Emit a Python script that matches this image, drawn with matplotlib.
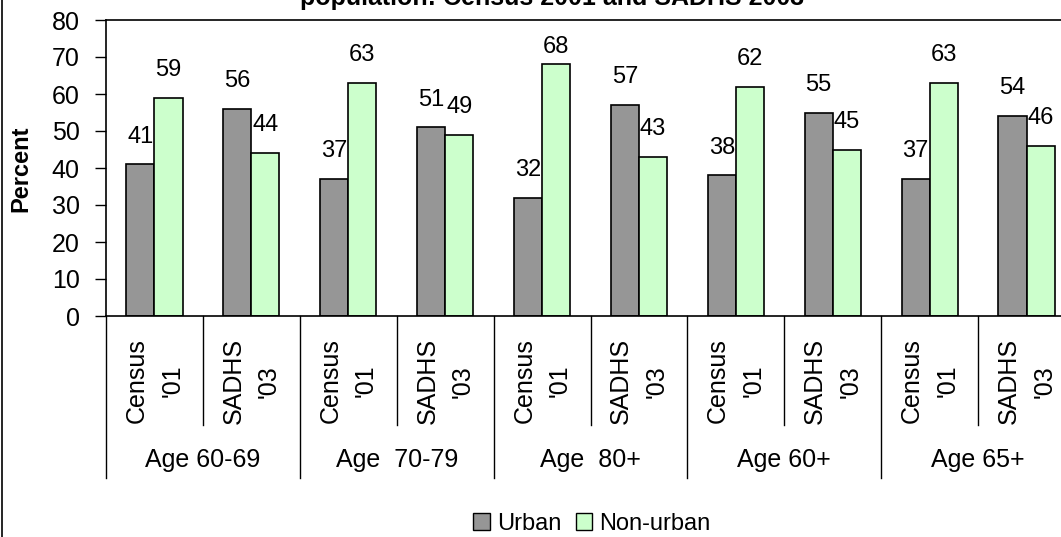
import matplotlib
matplotlib.use("Agg")
import matplotlib.pyplot as plt
from matplotlib.lines import Line2D
from matplotlib.patches import Patch
import numpy as np


age_groups = ["Age 60-69", "Age  70-79", "Age  80+", "Age 60+", "Age 65+"]
sources = ["Census\n'01", "SADHS\n'03"]
urban = [41, 56, 37, 51, 32, 57, 38, 55, 37, 54]
non_urban = [59, 44, 63, 49, 68, 43, 62, 45, 63, 46]
# label heights above the bar top (data units), one value was nudged down in the source
urban_label_offset = [7.5] * 10
non_urban_label_offset = [7.5, 7.5, 7.5, 7.5, 4.7, 7.5, 7.5, 7.5, 7.5, 7.5]

plt.rcParams['font.family'] = ['Liberation Sans', 'DejaVu Sans']

W, H = 1061, 537
fig = plt.figure(figsize=(W / 100, H / 100), dpi=100)

# plot area in pixels: left 106, right 1075 (past the crop), top 20, bottom 316
ax = fig.add_axes([106 / W, (H - 316) / H, (1075 - 106) / W, (316 - 20) / H])

x = np.arange(len(urban))
bw = 0.29
ax.bar(x - bw / 2, urban, bw, color='#969696', edgecolor='black', linewidth=1.2, label='Urban')
ax.bar(x + bw / 2, non_urban, bw, color='#CCFFCC', edgecolor='black', linewidth=1.2, label='Non-urban')

for i in range(len(urban)):
    ax.text(x[i] - bw / 2, urban[i] + urban_label_offset[i], str(urban[i]),
            ha='center', va='center', fontsize=17)
    ax.text(x[i] + bw / 2, non_urban[i] + non_urban_label_offset[i], str(non_urban[i]),
            ha='center', va='center', fontsize=17)

ax.set_xlim(-0.5, len(urban) - 0.5)
ax.set_ylim(0, 80)
ax.set_yticks(range(0, 81, 10))
ax.tick_params(axis='y', direction='out', length=8, width=1, labelsize=18, pad=11)
ax.set_xticks([])
for s in ['left', 'bottom', 'top']:
    ax.spines[s].set_linewidth(1.2)
ax.spines['right'].set_visible(False)

ax.set_ylabel('Percent', fontsize=17, fontweight='bold')
ax.yaxis.set_label_coords(-0.076, 0.497)

# two-level category axis below the plot
trans = ax.get_xaxis_transform()
for i in range(len(urban)):
    ax.text(x[i], -0.075, sources[i % 2], rotation=90, ha='center', va='top',
            multialignment='center', fontsize=18, linespacing=1.6, transform=trans)
for k in range(len(urban) + 1):
    bottom = -0.547 if k % 2 == 0 else -0.368
    ax.add_line(Line2D([k - 0.5, k - 0.5], [0, bottom], transform=trans,
                       color='black', linewidth=1, clip_on=False))
for j, g in enumerate(age_groups):
    ax.text(2 * j + 0.5, -0.487, g, ha='center', va='center', fontsize=18, transform=trans)

# title is cut off at the top edge of the picture
fig.text(552 / W, 1 - 5 / H, 'population: Census 2001 and SADHS 2003',
         ha='center', va='baseline', fontsize=18, fontweight='bold')

handles = [Patch(facecolor='#969696', edgecolor='black', label='Urban'),
           Patch(facecolor='#CCFFCC', edgecolor='black', label='Non-urban')]
fig.legend(handles=handles, loc='center', bbox_to_anchor=(592 / W, 1 - 524 / H), ncol=2,
           frameon=False, fontsize=17, handlelength=0.7, handleheight=0.7,
           handletextpad=0.3, columnspacing=0.6)

fig.add_artist(Line2D([1.5 / W, 1.5 / W], [0, 1], color='black', linewidth=1.2))

fig.savefig('out.png', dpi=100)
